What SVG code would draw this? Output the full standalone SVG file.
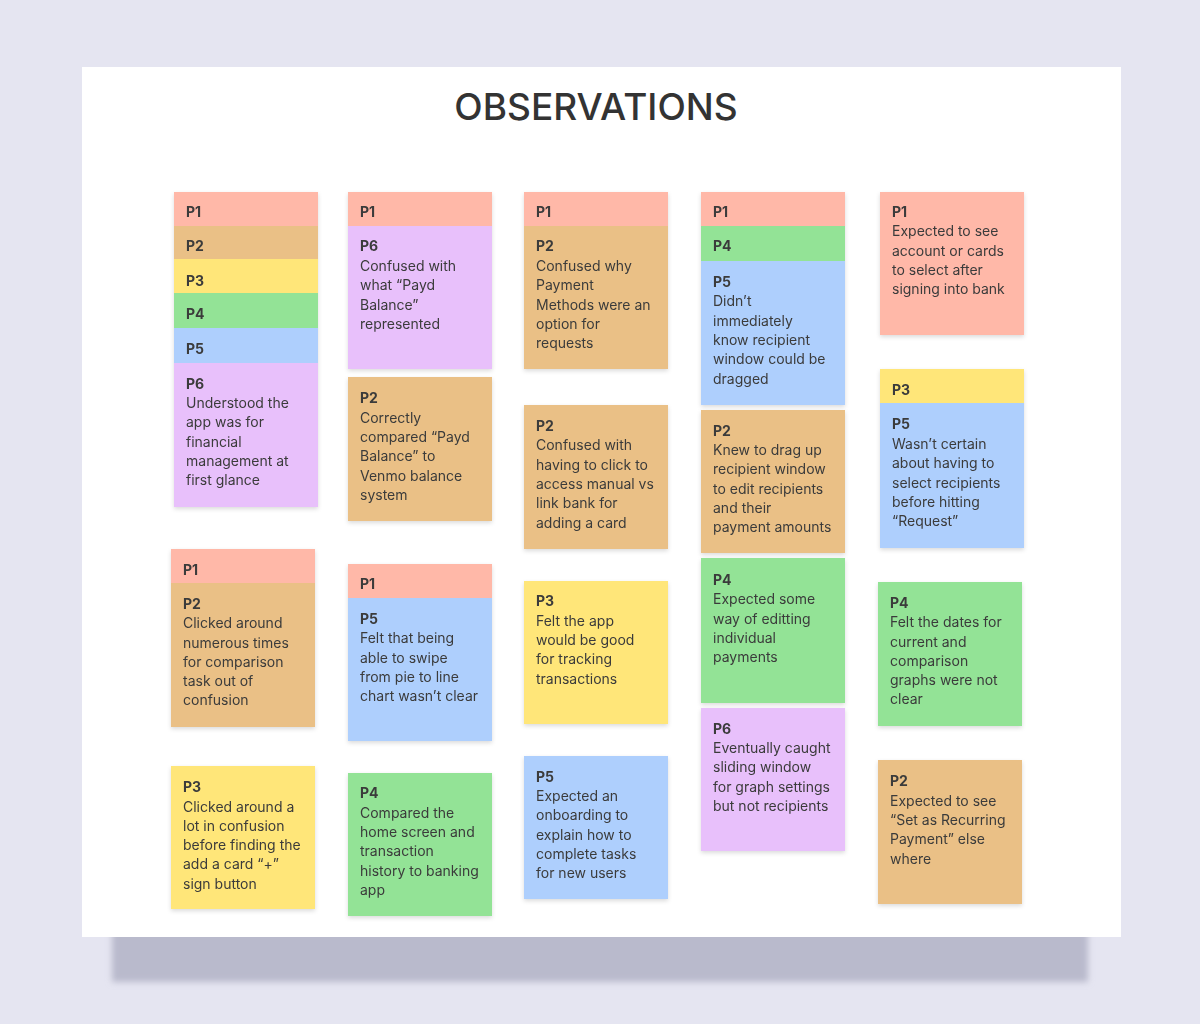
<svg xmlns="http://www.w3.org/2000/svg" width="1200" height="1024" viewBox="0 0 1200 1024">
  <defs>
    <filter id="noteShadow" x="-10%" y="-10%" width="120%" height="130%">
      <feDropShadow dx="0" dy="2" stdDeviation="2" flood-color="#000" flood-opacity="0.14"/>
    </filter>
    <filter id="boardShadow" x="-5%" y="-50%" width="110%" height="200%">
      <feGaussianBlur stdDeviation="3"/>
    </filter>
  </defs>
  <style>
    .p1 { fill: #ffb8a8; }
    .p2 { fill: #eac086; }
    .p3 { fill: #ffe679; }
    .p4 { fill: #93e396; }
    .p5 { fill: #aecffd; }
    .p6 { fill: #e8c0fb; }
    .note { filter: url(#noteShadow); }
    text { font-family: Inter, "Noto Sans", "Liberation Sans", sans-serif; fill: #3b3b3b; font-size: 14px; }
    .lbl { font-weight: 700; }
    .title { font-size: 37px; fill: #333; font-weight: 500; }
  </style>

  <!-- page -->
  <rect width="1200" height="1024" fill="#e5e5f1"/>
  <rect x="112" y="915" width="976" height="67" fill="#b9bacc" filter="url(#boardShadow)"/>
  <rect x="82" y="67" width="1039" height="870" fill="#ffffff"/>

  <text class="title" x="596" y="120" text-anchor="middle">OBSERVATIONS</text>

  <!-- column 1 -->
  <g id="c1-stack" class="note">
    <rect class="p1" x="174" y="192" width="144" height="34"/>
    <rect class="p2" x="174" y="226" width="144" height="34"/>
    <rect class="p3" x="174" y="259" width="144" height="34"/>
    <rect class="p4" x="174" y="293" width="144" height="35"/>
    <rect class="p5" x="174" y="328" width="144" height="35"/>
    <rect class="p6" x="174" y="363" width="144" height="144"/>
    <text class="lbl" x="186" y="217">P1</text>
    <text class="lbl" x="186" y="251">P2</text>
    <text class="lbl" x="186" y="286">P3</text>
    <text class="lbl" x="186" y="319">P4</text>
    <text class="lbl" x="186" y="354">P5</text>
    <text class="lbl" x="186" y="389">P6</text>
    <text x="186" y="408">Understood the</text>
    <text x="186" y="427">app was for</text>
    <text x="186" y="447">financial</text>
    <text x="186" y="466">management at</text>
    <text x="186" y="485">first glance</text>
  </g>

  <g id="c1-r2" class="note">
    <rect class="p1" x="171" y="549" width="144" height="34"/>
    <rect class="p2" x="171" y="583" width="144" height="144"/>
    <text class="lbl" x="183" y="575">P1</text>
    <text class="lbl" x="183" y="609">P2</text>
    <text x="183" y="628">Clicked around</text>
    <text x="183" y="648">numerous times</text>
    <text x="183" y="667">for comparison</text>
    <text x="183" y="686">task out of</text>
    <text x="183" y="705">confusion</text>
  </g>

  <g id="c1-r3" class="note">
    <rect class="p3" x="171" y="766" width="144" height="143"/>
    <text class="lbl" x="183" y="792">P3</text>
    <text x="183" y="812">Clicked around a</text>
    <text x="183" y="831">lot in confusion</text>
    <text x="183" y="850">before finding the</text>
    <text x="183" y="869">add a card “+”</text>
    <text x="183" y="889">sign button</text>
  </g>

  <!-- column 2 -->
  <g id="c2-r1" class="note">
    <rect class="p1" x="348" y="192" width="144" height="34"/>
    <rect class="p6" x="348" y="226" width="144" height="143"/>
    <text class="lbl" x="360" y="217">P1</text>
    <text class="lbl" x="360" y="251">P6</text>
    <text x="360" y="271">Confused with</text>
    <text x="360" y="290">what “Payd</text>
    <text x="360" y="310">Balance”</text>
    <text x="360" y="329">represented</text>
  </g>

  <g id="c2-r2" class="note">
    <rect class="p2" x="348" y="377" width="144" height="144"/>
    <text class="lbl" x="360" y="403">P2</text>
    <text x="360" y="423">Correctly</text>
    <text x="360" y="442">compared “Payd</text>
    <text x="360" y="461">Balance” to</text>
    <text x="360" y="481">Venmo balance</text>
    <text x="360" y="500">system</text>
  </g>

  <g id="c2-r3" class="note">
    <rect class="p1" x="348" y="564" width="144" height="34"/>
    <rect class="p5" x="348" y="598" width="144" height="143"/>
    <text class="lbl" x="360" y="589">P1</text>
    <text class="lbl" x="360" y="624">P5</text>
    <text x="360" y="643">Felt that being</text>
    <text x="360" y="663">able to swipe</text>
    <text x="360" y="682">from pie to line</text>
    <text x="360" y="701">chart wasn’t clear</text>
  </g>

  <g id="c2-r4" class="note">
    <rect class="p4" x="348" y="773" width="144" height="143"/>
    <text class="lbl" x="360" y="798">P4</text>
    <text x="360" y="818">Compared the</text>
    <text x="360" y="837">home screen and</text>
    <text x="360" y="856">transaction</text>
    <text x="360" y="876">history to banking</text>
    <text x="360" y="895">app</text>
  </g>

  <!-- column 3 -->
  <g id="c3-r1" class="note">
    <rect class="p1" x="524" y="192" width="144" height="34"/>
    <rect class="p2" x="524" y="226" width="144" height="143"/>
    <text class="lbl" x="536" y="217">P1</text>
    <text class="lbl" x="536" y="251">P2</text>
    <text x="536" y="271">Confused why</text>
    <text x="536" y="290">Payment</text>
    <text x="536" y="310">Methods were an</text>
    <text x="536" y="329">option for</text>
    <text x="536" y="348">requests</text>
  </g>

  <g id="c3-r2" class="note">
    <rect class="p2" x="524" y="405" width="144" height="144"/>
    <text class="lbl" x="536" y="431">P2</text>
    <text x="536" y="450">Confused with</text>
    <text x="536" y="470">having to click to</text>
    <text x="536" y="489">access manual vs</text>
    <text x="536" y="508">link bank for</text>
    <text x="536" y="528">adding a card</text>
  </g>

  <g id="c3-r3" class="note">
    <rect class="p3" x="524" y="581" width="144" height="143"/>
    <text class="lbl" x="536" y="606">P3</text>
    <text x="536" y="626">Felt the app</text>
    <text x="536" y="645">would be good</text>
    <text x="536" y="664">for tracking</text>
    <text x="536" y="684">transactions</text>
  </g>

  <g id="c3-r4" class="note">
    <rect class="p5" x="524" y="756" width="144" height="143"/>
    <text class="lbl" x="536" y="782">P5</text>
    <text x="536" y="801">Expected an</text>
    <text x="536" y="820">onboarding to</text>
    <text x="536" y="840">explain how to</text>
    <text x="536" y="859">complete tasks</text>
    <text x="536" y="878">for new users</text>
  </g>

  <!-- column 4 -->
  <g id="c4-r1" class="note">
    <rect class="p1" x="701" y="192" width="144" height="34"/>
    <rect class="p4" x="701" y="226" width="144" height="35"/>
    <rect class="p5" x="701" y="261" width="144" height="144"/>
    <text class="lbl" x="713" y="217">P1</text>
    <text class="lbl" x="713" y="251">P4</text>
    <text class="lbl" x="713" y="287">P5</text>
    <text x="713" y="306">Didn’t</text>
    <text x="713" y="326">immediately</text>
    <text x="713" y="345">know recipient</text>
    <text x="713" y="364">window could be</text>
    <text x="713" y="384">dragged</text>
  </g>

  <g id="c4-r2" class="note">
    <rect class="p2" x="701" y="410" width="144" height="143"/>
    <text class="lbl" x="713" y="436">P2</text>
    <text x="713" y="455">Knew to drag up</text>
    <text x="713" y="474">recipient window</text>
    <text x="713" y="494">to edit recipients</text>
    <text x="713" y="513">and their</text>
    <text x="713" y="532">payment amounts</text>
  </g>

  <g id="c4-r3" class="note">
    <rect class="p4" x="701" y="558" width="144" height="145"/>
    <text class="lbl" x="713" y="585">P4</text>
    <text x="713" y="604">Expected some</text>
    <text x="713" y="624">way of editting</text>
    <text x="713" y="643">individual</text>
    <text x="713" y="662">payments</text>
  </g>

  <g id="c4-r4" class="note">
    <rect class="p6" x="701" y="708" width="144" height="143"/>
    <text class="lbl" x="713" y="734">P6</text>
    <text x="713" y="753">Eventually caught</text>
    <text x="713" y="772">sliding window</text>
    <text x="713" y="792">for graph settings</text>
    <text x="713" y="811">but not recipients</text>
  </g>

  <!-- column 5 -->
  <g id="c5-r1" class="note">
    <rect class="p1" x="880" y="192" width="144" height="143"/>
    <text class="lbl" x="892" y="217">P1</text>
    <text x="892" y="236">Expected to see</text>
    <text x="892" y="256">account or cards</text>
    <text x="892" y="275">to select after</text>
    <text x="892" y="294">signing into bank</text>
  </g>

  <g id="c5-r2" class="note">
    <rect class="p3" x="880" y="369" width="144" height="34"/>
    <rect class="p5" x="880" y="403" width="144" height="145"/>
    <text class="lbl" x="892" y="395">P3</text>
    <text class="lbl" x="892" y="429">P5</text>
    <text x="892" y="449">Wasn’t certain</text>
    <text x="892" y="468">about having to</text>
    <text x="892" y="488">select recipients</text>
    <text x="892" y="507">before hitting</text>
    <text x="892" y="526">“Request”</text>
  </g>

  <g id="c5-r3" class="note">
    <rect class="p4" x="878" y="582" width="144" height="144"/>
    <text class="lbl" x="890" y="608">P4</text>
    <text x="890" y="627">Felt the dates for</text>
    <text x="890" y="647">current and</text>
    <text x="890" y="666">comparison</text>
    <text x="890" y="685">graphs were not</text>
    <text x="890" y="704">clear</text>
  </g>

  <g id="c5-r4" class="note">
    <rect class="p2" x="878" y="760" width="144" height="144"/>
    <text class="lbl" x="890" y="786">P2</text>
    <text x="890" y="806">Expected to see</text>
    <text x="890" y="825">“Set as Recurring</text>
    <text x="890" y="844">Payment” else</text>
    <text x="890" y="864">where</text>
  </g>

  <!-- no connectors in this board -->
  <g id="connectors"/>
</svg>
